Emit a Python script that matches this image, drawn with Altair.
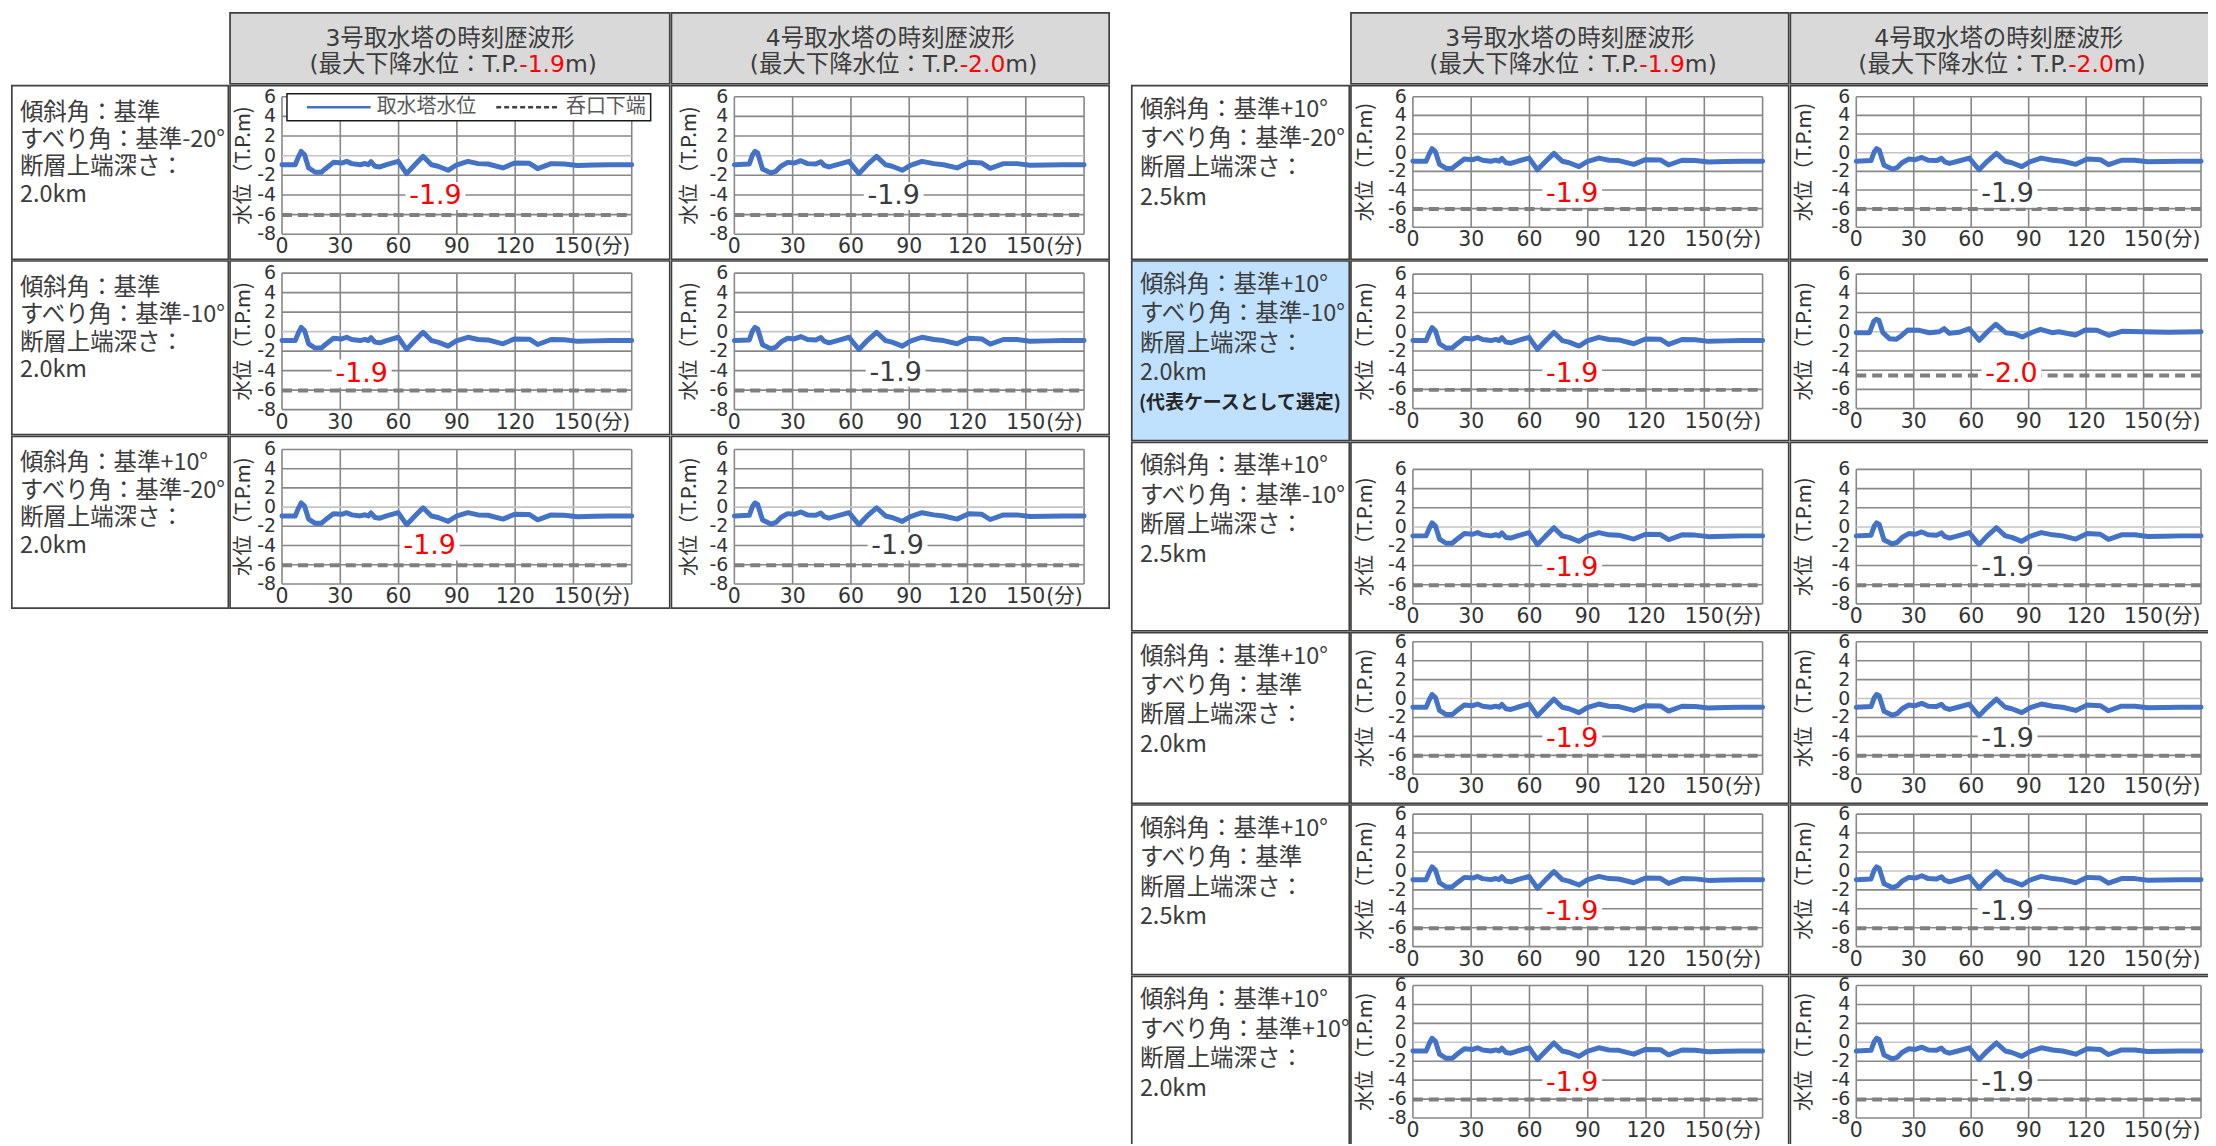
import altair as alt
import pandas as pd

NUMFONT = "DejaVu Sans, Noto Sans CJK JP"
CJK = "Noto Sans CJK JP"
TXT = "#3c3c3c"
TICK = "#333333"
BORDER = "#3f3f3f"
GRID = "#878787"
ZERO_GRID = "#c4c4c4"
BLUE = "#4472c4"
RED = "#ff0000"
DASH = "#7f7f7f"
HEAD_FILL = "#d9d9d9"
SEL_FILL = "#bfe1fd"

# ---------------- data ----------------
# 3号取水塔 water level (minutes, T.P. m)
t3 = [0, 6.8, 8.5, 9.9, 11.6, 13.7, 17.1, 20.2, 22.2, 26.5, 30.8, 33.3, 35.9, 40.2, 42.7, 44.4,
      45.8, 47.9, 50.4, 53.8, 59.8, 64.1, 68.4, 72.6, 76.9, 80.3, 85.5, 89.7, 95.7, 100.9, 106.0,
      113.7, 119.7, 127.4, 131.6, 138.5, 145.3, 152.1, 160.7, 169.2, 180]
h3 = [-0.92, -0.92, -0.1, 0.43, 0.1, -1.25, -1.69, -1.69, -1.35, -0.68, -0.75, -0.58, -0.81, -0.92,
      -0.8, -0.92, -0.61, -1.08, -1.15, -0.92, -0.58, -1.83, -0.92, -0.07, -0.92, -1.08, -1.49,
      -0.95, -0.58, -0.81, -0.85, -1.25, -0.75, -0.78, -1.32, -0.81, -0.84, -1.0, -0.95, -0.92, -0.92]
# 4号取水塔 water level
t4 = [0, 7.7, 9.4, 10.6, 12.0, 14.5, 18.8, 21.4, 23.9, 27.4, 30.8, 34.2, 37.6, 41.9, 44.5, 46.2,
      48.7, 53.0, 59.0, 64.1, 68.4, 73.2, 77.8, 81.2, 86.4, 90.6, 96.6, 102.6, 107.7, 114.6, 120.6,
      127.4, 131.7, 138.5, 145.4, 152.2, 160.7, 169.3, 180]
h4 = [-0.92, -0.85, 0.1, 0.43, 0.27, -1.35, -1.76, -1.59, -1.08, -0.68, -0.75, -0.51, -0.81, -0.85,
      -0.61, -0.98, -1.15, -0.92, -0.58, -1.83, -0.92, -0.07, -0.92, -1.08, -1.49, -0.98, -0.58,
      -0.81, -0.92, -1.25, -0.68, -0.75, -1.29, -0.81, -0.81, -0.98, -0.95, -0.92, -0.92]
# 4号取水塔, representative case
t_rep4 = [0, 6.9, 9.2, 10.5, 11.8, 13.9, 17.3, 20.8, 23.4, 26.9, 32.9, 38.2, 43.3, 45.9, 48.6, 53.8,
          59.0, 64.2, 68.5, 72.8, 78.0, 82.3, 86.7, 91.9, 96.2, 102.3, 105.7, 114.4, 119.6, 125.7,
          131.8, 138.7, 149.1, 163.0, 180]
h_rep4 = [-0.1, -0.1, 1.1, 1.3, 1.2, -0.1, -0.72, -0.79, -0.44, 0.18, 0.15, -0.1, 0.0, 0.32, -0.16,
          -0.05, 0.32, -0.9, 0.0, 0.78, -0.1, -0.2, -0.55, -0.05, 0.25, -0.1, 0.0, -0.34, 0.18, 0.15,
          -0.37, 0.05, 0.0, -0.05, 0.0]
SERIES = {"3": (t3, h3), "4": (t4, h4), "rep4": (t_rep4, h_rep4)}

# intake lower end level (T.P. m)
intake_std = -6.05
intake_rep4 = -4.55

x_ticks = [0, 30, 60, 90, 120, 150, 180]
x_label_pos = [0, 30, 60, 90, 120, 150]
x_labels = ["0", "30", "60", "90", "120", "150"]
x_unit = "(分)"
y_ticks = [-8, -6, -4, -2, 0, 2, 4, 6]
y_labels = ["-8", "-6", "-4", "-2", "0", "2", "4", "6"]
y_title = "水位（T.P.m)"

header_titles = ["3号取水塔の時刻歴波形", "4号取水塔の時刻歴波形"]
header_max = ["-1.9", "-2.0"]
header_pre = "(最大下降水位：T.P."
header_post = "m)"
legend_names = ["取水塔水位", "呑口下端"]

left_labels = [
    ["傾斜角：基準", "すべり角：基準-20°", "断層上端深さ：", "2.0km"],
    ["傾斜角：基準", "すべり角：基準-10°", "断層上端深さ：", "2.0km"],
    ["傾斜角：基準+10°", "すべり角：基準-20°", "断層上端深さ：", "2.0km"],
]
right_labels = [
    ["傾斜角：基準+10°", "すべり角：基準-20°", "断層上端深さ：", "2.5km"],
    ["傾斜角：基準+10°", "すべり角：基準-10°", "断層上端深さ：", "2.0km"],
    ["傾斜角：基準+10°", "すべり角：基準-10°", "断層上端深さ：", "2.5km"],
    ["傾斜角：基準+10°", "すべり角：基準", "断層上端深さ：", "2.0km"],
    ["傾斜角：基準+10°", "すべり角：基準", "断層上端深さ：", "2.5km"],
    ["傾斜角：基準+10°", "すべり角：基準+10°", "断層上端深さ：", "2.0km"],
]
selected_note = "(代表ケースとして選定)"
selected_row = 1

# per panel: (series, minimum level text, intake level)
left_panels = [
    [("3", "-1.9", intake_std), ("4", "-1.9", intake_std)],
    [("3", "-1.9", intake_std), ("4", "-1.9", intake_std)],
    [("3", "-1.9", intake_std), ("4", "-1.9", intake_std)],
]
right_panels = [
    [("3", "-1.9", intake_std), ("4", "-1.9", intake_std)],
    [("3", "-1.9", intake_std), ("rep4", "-2.0", intake_rep4)],
    [("3", "-1.9", intake_std), ("4", "-1.9", intake_std)],
    [("3", "-1.9", intake_std), ("4", "-1.9", intake_std)],
    [("3", "-1.9", intake_std), ("4", "-1.9", intake_std)],
    [("3", "-1.9", intake_std), ("4", "-1.9", intake_std)],
]

# ---------------- layout (pixels) ----------------
HEAD_H = 73
left_row_h = [176, 176, 174]
right_row_h = [176, 182, 191, 173, 172, 169]
left_col_w = [219, 443, 441]
right_col_w = [220, 441, 420]
left_plot_x = [(53, 404), (64, 415)]
right_plot_x = [(63, 414), (67, 413)]
left_title_x = [15, 19]
right_title_x = [16, 16]
left_plot_y = [(12, 150), (13, 150), (14, 149)]
right_plot_y = [(12, 143), (14, 149), (28, 163), (10, 143), (10, 143), (10, 143)]
# annotation positions (minutes, T.P. m)
left_ann = [[(79, -4.1), (82, -4.1)], [(41, -4.3), (83, -4.2)], [(76, -4.1), (84, -4.1)]]
right_ann = [[(82, -4.4), (79, -4.4)], [(82, -4.4), (81, -4.45)], [(82, -4.3), (79, -4.3)],
             [(82, -4.3), (79, -4.3)], [(82, -4.3), (79, -4.3)], [(82, -4.3), (79, -4.3)]]
RECT_PATH = "M-1,-0.47L1,-0.47L1,0.47L-1,0.47Z"
ONE = pd.DataFrame({"k": [0]})
LAB_FS = 20.5
YLAB_FS = 19
LABEL_FS = 23.5


def cell_props(w, h, fill):
    return dict(width=w, height=h, view=alt.ViewBackground(fill=fill, strokeWidth=0))


def border(w, h, open_right=False, open_bottom=False):
    # cell frame, clipped to the cell; an edge that runs off the page is pushed outside
    x2 = w + 6 if open_right else w
    y2 = h + 6 if open_bottom else h
    return alt.Chart(ONE).mark_rect(clip=True, filled=False, stroke=BORDER, strokeWidth=3.4).encode(
        x=alt.value(0), x2=alt.value(x2), y=alt.value(0), y2=alt.value(y2))


def legend_layers():
    box = alt.Chart(ONE).mark_rect(fill="white", stroke="#1a1a1a", strokeWidth=1.5).encode(
        x=alt.value(58), x2=alt.value(423), y=alt.value(9), y2=alt.value(36))
    l1 = alt.Chart(ONE).mark_rule(color=BLUE, strokeWidth=2.5).encode(
        x=alt.value(78), x2=alt.value(142), y=alt.value(22.5))
    tx1 = alt.Chart(ONE).mark_text(align="left", baseline="middle", fontSize=20, font=CJK,
                                   color="#595959").encode(
        x=alt.value(148), y=alt.value(22.5), text=alt.value(legend_names[0]))
    l2 = alt.Chart(ONE).mark_rule(color="#404040", strokeWidth=2.5, strokeDash=[5, 3]).encode(
        x=alt.value(268), x2=alt.value(332), y=alt.value(22.5))
    tx2 = alt.Chart(ONE).mark_text(align="left", baseline="middle", fontSize=20, font=CJK,
                                   color="#595959").encode(
        x=alt.value(338), y=alt.value(22.5), text=alt.value(legend_names[1]))
    return [box, l1, tx1, l2, tx2]


def panel(key, minlab, mincol, apos, level, w, h, px, py, title_x, legend=False,
          open_right=False, open_bottom=False):
    t, v = SERIES[key]
    xs = alt.Scale(domain=[0, 180], range=[px[0], px[1]], nice=False, zero=False)
    ys = alt.Scale(domain=[-8, 6], range=[py[1], py[0]], nice=False, zero=False)

    def X(f):
        return alt.X(f, scale=xs, axis=None)

    def Y(f):
        return alt.Y(f, scale=ys, axis=None)

    n = len(x_ticks)
    vgrid = alt.Chart(pd.DataFrame({"t": x_ticks, "lo": [-8] * n, "hi": [6] * n})).mark_rule(
        color=GRID, strokeWidth=1.6).encode(x=X("t:Q"), y=Y("lo:Q"), y2="hi:Q")
    m = len(y_ticks)
    hgrid = alt.Chart(pd.DataFrame({"v": y_ticks, "t0": [0] * m, "t1": [180] * m})).mark_rule(
        strokeWidth=1.6).encode(
        x=X("t0:Q"), x2="t1:Q", y=Y("v:Q"),
        color=alt.condition("datum.v == 0", alt.value(ZERO_GRID), alt.value(GRID)))
    xlab = alt.Chart(pd.DataFrame({"t": x_label_pos, "lab": x_labels})).mark_text(
        fontSize=LAB_FS, color=TICK, baseline="top", font=NUMFONT).encode(
        x=X("t:Q"), y=alt.value(py[1] + 3), text="lab:N")
    unit = alt.Chart(pd.DataFrame({"t": [150], "u": [x_unit]})).mark_text(
        fontSize=LAB_FS, color=TICK, align="left", baseline="top", font=NUMFONT,
        dx=1.908 * LAB_FS / 2 + 1).encode(
        x=X("t:Q"), y=alt.value(py[1] + 3), text="u:N")
    ylab = alt.Chart(pd.DataFrame({"v": y_ticks, "lab": y_labels})).mark_text(
        fontSize=YLAB_FS, color=TICK, align="right", baseline="middle", font=NUMFONT).encode(
        x=alt.value(px[0] - 6), y=Y("v:Q"), text="lab:N")
    ytitle = alt.Chart(ONE).mark_text(
        angle=270, fontSize=20.5, font=CJK, color=TICK, baseline="middle", align="center").encode(
        x=alt.value(title_x), y=alt.value((py[0] + py[1]) / 2), text=alt.value(y_title))

    wave = alt.Chart(pd.DataFrame({"t": t, "v": v})).mark_line(
        color=BLUE, strokeWidth=5, strokeJoin="round", strokeCap="round").encode(
        x=X("t:Q"), y=Y("v:Q"))
    intake = alt.Chart(pd.DataFrame({"t0": [0], "t1": [180], "lv": [level]})).mark_rule(
        color=DASH, strokeWidth=4, strokeDash=[10, 6]).encode(
        x=X("t0:Q"), x2="t1:Q", y=Y("lv:Q"))
    ann_df = pd.DataFrame({"t": [apos[0]], "v": [apos[1]], "lab": [minlab]})
    box = alt.Chart(ann_df).mark_point(
        shape=RECT_PATH, size=60 * 60, filled=True, fill="white", opacity=1, strokeWidth=0).encode(
        x=X("t:Q"), y=Y("v:Q"))
    txt = alt.Chart(ann_df).mark_text(fontSize=27, color=mincol, baseline="middle", font=NUMFONT).encode(
        x=X("t:Q"), y=Y("v:Q"), text="lab:N")
    layers = [vgrid, hgrid, xlab, unit, ylab, ytitle, wave, intake, box, txt]
    if legend:
        layers += legend_layers()
    layers.append(border(w, h, open_right, open_bottom))
    return alt.layer(*layers).properties(**cell_props(w, h, "white"))


def header_cell(title, maxv, w, h, open_right=False):
    fs = 23.5
    cx = w / 2
    total = 12.555 * fs
    x_red = cx - total / 2 + 9.24 * fs
    x_m = x_red + 1.951 * fs
    l1 = alt.Chart(ONE).mark_text(fontSize=fs, color=TXT, baseline="middle", font=NUMFONT).encode(
        x=alt.value(cx), y=alt.value(27), text=alt.value(title))
    p1 = alt.Chart(ONE).mark_text(fontSize=fs, color=TXT, baseline="middle", align="right",
                                  font=NUMFONT).encode(
        x=alt.value(x_red), y=alt.value(53), text=alt.value(header_pre))
    p2 = alt.Chart(ONE).mark_text(fontSize=fs, color=RED, baseline="middle", align="left",
                                  font=NUMFONT).encode(
        x=alt.value(x_red), y=alt.value(53), text=alt.value(maxv))
    p3 = alt.Chart(ONE).mark_text(fontSize=fs, color=TXT, baseline="middle", align="left",
                                  font=NUMFONT).encode(
        x=alt.value(x_m), y=alt.value(53), text=alt.value(header_post))
    return alt.layer(l1, p1, p2, p3, border(w, h, open_right)).properties(**cell_props(w, h, HEAD_FILL))


def empty_cell(w, h):
    return alt.Chart(ONE).mark_point(opacity=0).encode(
        x=alt.value(w / 2), y=alt.value(h / 2)).properties(**cell_props(w, h, "white"))


def label_cell(lines, w, h, y0, dy, fill, note=None, open_bottom=False):
    df = pd.DataFrame({"txt": lines, "i": list(range(len(lines)))})
    t = alt.Chart(df).transform_calculate(yp=f"{y0} + datum.i * {dy}").mark_text(
        align="left", baseline="middle", fontSize=LABEL_FS, color=TXT, font=CJK).encode(
        x=alt.value(9), y=alt.Y("yp:Q", scale=None, axis=None), text="txt:N")
    layers = [t]
    if note:
        layers.append(alt.Chart(ONE).mark_text(
            align="left", baseline="middle", fontSize=19, fontWeight="bold", color="#262626",
            font=CJK).encode(
            x=alt.value(8), y=alt.value(y0 + len(lines) * dy), text=alt.value(note)))
    layers.append(border(w, h, False, open_bottom))
    return alt.layer(*layers).properties(**cell_props(w, h, fill))


def table(labels, panels, row_h, col_w, plot_x, plot_y, title_xs, ann, y0, dy,
          legend_first=False, page_edge=False):
    rows = [alt.hconcat(
        empty_cell(col_w[0], HEAD_H),
        header_cell(header_titles[0], header_max[0], col_w[1], HEAD_H),
        header_cell(header_titles[1], header_max[1], col_w[2], HEAD_H, open_right=page_edge),
        spacing=0, bounds="flush")]
    last = len(labels) - 1
    for i, lines in enumerate(labels):
        sel = (i == selected_row) and not legend_first
        ob = page_edge and i == last
        cells = [label_cell(lines, col_w[0], row_h[i], y0, dy, SEL_FILL if sel else "white",
                            selected_note if sel else None, open_bottom=ob)]
        for j in range(2):
            key, minlab, level = panels[i][j]
            col = RED if (j == 0 or minlab == header_max[1]) else TXT
            cells.append(panel(key, minlab, col, ann[i][j], level, col_w[j + 1], row_h[i],
                               plot_x[j], plot_y[i], title_xs[j],
                               legend=(legend_first and i == 0 and j == 0),
                               open_right=(page_edge and j == 1), open_bottom=ob))
        rows.append(alt.hconcat(*cells, spacing=0, bounds="flush"))
    return alt.vconcat(*rows, spacing=0)


left_table = table(left_labels, left_panels, left_row_h, left_col_w, left_plot_x, left_plot_y,
                   left_title_x, left_ann, 28, 27.5, legend_first=True)
right_table = table(right_labels, right_panels, right_row_h, right_col_w, right_plot_x, right_plot_y,
                    right_title_x, right_ann, 25, 29.5, page_edge=True)

chart = alt.hconcat(left_table, right_table, spacing=21).properties(
    padding={"left": 3, "top": 2, "right": 0, "bottom": 0}
).configure(font=NUMFONT).configure_view(strokeWidth=0)

chart.save("out.html", embed_options={"renderer": "svg", "actions": False})
